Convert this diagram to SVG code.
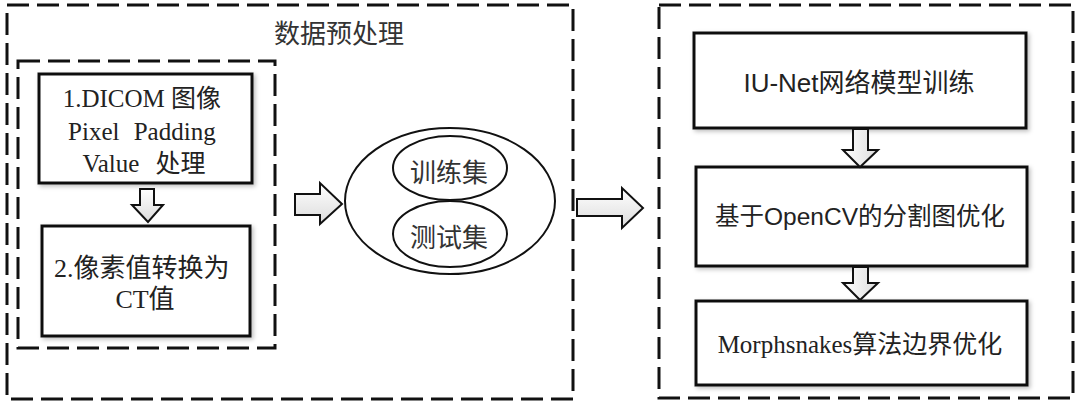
<svg xmlns="http://www.w3.org/2000/svg" width="1080" height="407" viewBox="0 0 1080 407">
  <defs>
    <linearGradient id="arrowFill" x1="0" y1="0" x2="0" y2="1">
      <stop offset="0" stop-color="#ffffff"/>
      <stop offset="1" stop-color="#dcdcdc"/>
    </linearGradient>
    <linearGradient id="arrowFillH" x1="0" y1="0" x2="1" y2="0">
      <stop offset="0" stop-color="#ffffff"/>
      <stop offset="1" stop-color="#dcdcdc"/>
    </linearGradient>
    <filter id="shadow" x="-5%" y="-5%" width="112%" height="115%">
      <feDropShadow dx="2" dy="2" stdDeviation="2" flood-color="#000" flood-opacity="0.25"/>
    </filter>
  </defs>
  <style>
    .dash { fill: none; stroke: #111; stroke-width: 3; stroke-dasharray: 22 8; }
    .box { fill: #ffffff; stroke: #111; stroke-width: 3; filter: url(#shadow); }
    .ell { fill: #ffffff; stroke: #111; stroke-width: 2; }
    .arr { stroke: #111; stroke-width: 2; stroke-linejoin: miter; }
    .serif { font-family: "Liberation Serif", "Noto Sans CJK SC", serif; fill: #222; }
    .sans { font-family: "Liberation Sans", "Noto Sans CJK SC", sans-serif; fill: #222; }
    .cjk { font-family: "Noto Sans CJK SC", sans-serif; fill: #333; }
  </style>
  <rect width="1080" height="407" fill="#ffffff"/>

  <g id="preprocess-group">
    <rect class="dash" x="7" y="5" width="566" height="394"/>
    <text class="cjk" x="339" y="43" font-size="26" text-anchor="middle">数据预处理</text>
  </g>

  <g id="inner-group">
    <rect class="dash" x="18" y="61" width="257" height="287"/>
  </g>

  <g id="node-dicom">
    <rect class="box" x="39" y="74" width="213" height="109"/>
    <text class="serif" font-size="25" text-anchor="middle">
      <tspan x="145" y="107">1.DICOM 图像</tspan>
      <tspan x="145" y="140" word-spacing="8">Pixel Padding</tspan>
      <tspan x="144" y="172" word-spacing="10">Value 处理</tspan>
    </text>
  </g>

  <g id="node-ct">
    <rect class="box" x="42" y="226" width="208" height="110"/>
    <text class="serif" font-size="26" text-anchor="middle">
      <tspan x="145" y="277">2.像素值转换为</tspan>
      <tspan x="145" y="308">CT值</tspan>
    </text>
  </g>

  <g id="node-dataset">
    <ellipse class="ell" cx="450" cy="201" rx="105" ry="73"/>
  </g>

  <g id="node-train">
    <ellipse class="ell" cx="450" cy="168" rx="57" ry="32"/>
    <text class="cjk" x="449" y="182" font-size="26" text-anchor="middle">训练集</text>
  </g>

  <g id="node-test">
    <ellipse class="ell" cx="450" cy="234" rx="57" ry="33"/>
    <text class="cjk" x="449" y="247" font-size="26" text-anchor="middle">测试集</text>
  </g>

  <g id="model-group">
    <rect class="dash" x="659" y="5" width="414" height="393"/>
  </g>

  <g id="node-unet">
    <rect class="box" x="694" y="33" width="332" height="95"/>
    <text class="sans" x="859" y="92" font-size="26" text-anchor="middle">IU-Net网络模型训练</text>
  </g>

  <g id="node-opencv">
    <rect class="box" x="696" y="167" width="331" height="99"/>
    <text class="sans" x="860" y="225" font-size="24.5" text-anchor="middle">基于OpenCV的分割图优化</text>
  </g>

  <g id="node-morph">
    <rect class="box" x="696" y="301" width="331" height="84"/>
    <text class="serif" x="860" y="353" font-size="25" text-anchor="middle">Morphsnakes算法边界优化</text>
  </g>

  <g id="connectors">
    <polygon class="arr" fill="url(#arrowFill)" points="140,189 154,189 154,205 163,205 148,222 132,205 140,205"/>
    <polygon class="arr" fill="url(#arrowFill)" points="295,194 320,194 320,183 342,204 320,224 320,215 295,215"/>
    <polygon class="arr" fill="url(#arrowFill)" points="577,199 622,199 622,188 643,208 622,228 622,216 577,216"/>
    <polygon class="arr" fill="url(#arrowFillH)" points="853,129 868,129 868,150 878,150 860,167 843,150 853,150"/>
    <polygon class="arr" fill="url(#arrowFillH)" points="853,267 868,267 868,283 878,283 860,300 843,283 853,283"/>
  </g>
</svg>
